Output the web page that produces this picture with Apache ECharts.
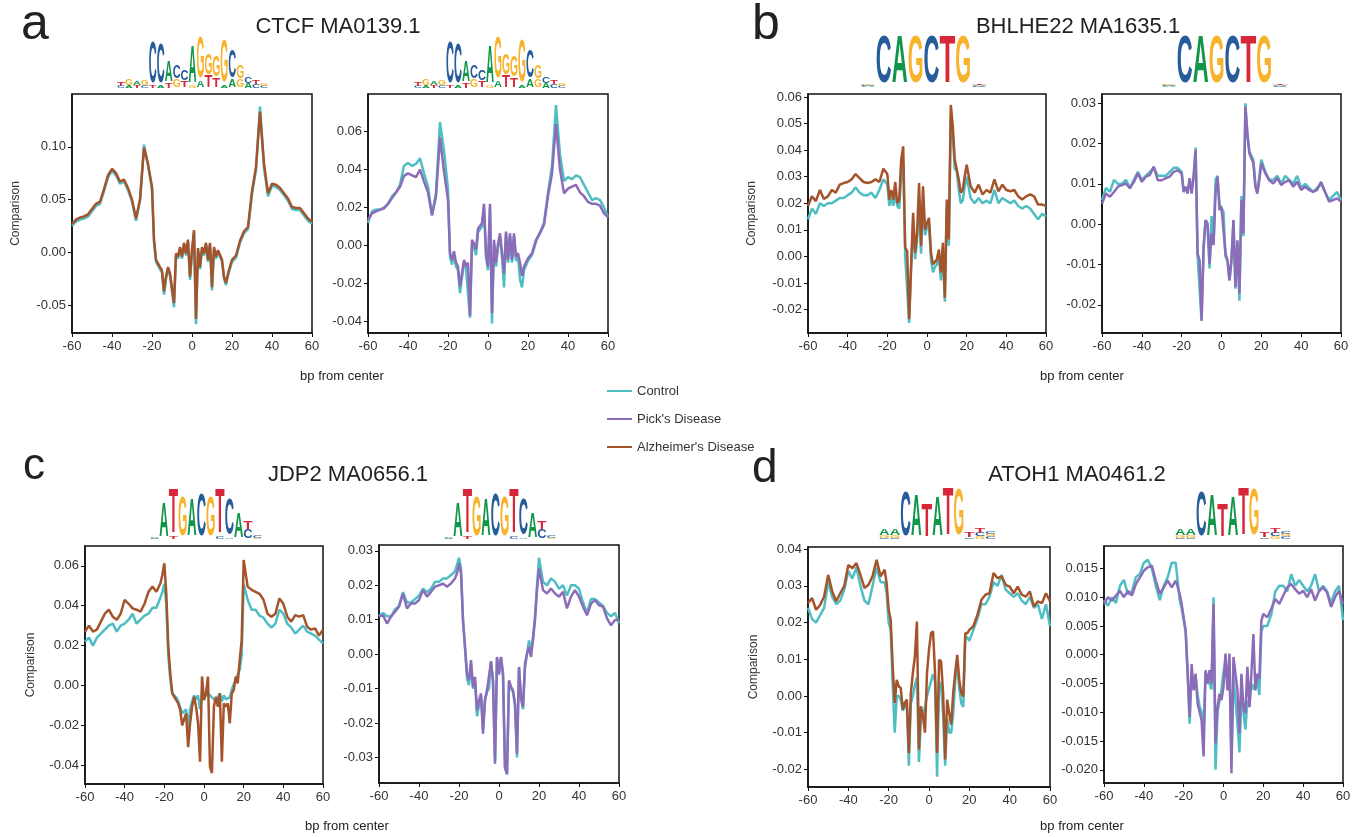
<!DOCTYPE html>
<html>
<head>
<meta charset="utf-8">
<script src="https://cdn.jsdelivr.net/npm/echarts@6.0.0/dist/echarts.min.js"></script>
<style>
  html, body { margin: 0; padding: 0; background: #fff; }
  #chart { width: 1366px; height: 837px; }
</style>
</head>
<body>
<div id="chart"></div>
<script>
// bp from motif center (2 bp steps on the flanks, 1 bp steps in the core)
const X = [-60,-58,-56,-54,-52,-50,-48,-46,-44,-42,-40,-38,-36,-34,-32,-30,-28,-26,-24,-22,
  -21,-20,-19,-18,-17,-16,-15,-14,-13,-12,-11,-10,-9,-8,-7,-6,-5,-4,-3,-2,-1,0,1,2,3,4,5,6,7,8,9,10,11,12,13,14,15,16,17,18,19,20,
  22,24,26,28,30,32,34,36,38,40,42,44,46,48,50,52,54,56,58,60];

// a - CTCF MA0139.1
const ctcfCtrlL = [0.025,0.029,0.031,0.032,0.034,0.039,0.044,0.046,0.058,0.071,0.077,0.073,0.065,0.067,0.059,0.048,0.030,0.049,0.102,0.082,
  0.082,0.060,0.010,-0.009,-0.008,-0.016,-0.019,-0.040,-0.025,-0.016,-0.022,-0.022,-0.052,-0.003,-0.006,0.003,-0.006,0.007,-0.003,0.010,-0.026,0.000,0.019,-0.068,0.002,-0.016,0.003,-0.003,0.007,-0.009,0.007,-0.036,0.003,-0.006,0.000,0.000,-0.009,-0.025,-0.031,-0.022,-0.022,-0.009,
  -0.005,0.009,0.018,0.022,0.055,0.078,0.138,0.080,0.053,0.063,0.062,0.059,0.054,0.049,0.041,0.040,0.040,0.035,0.030,0.027];
const ctcfAD = [0.027,0.031,0.033,0.034,0.036,0.041,0.046,0.048,0.060,0.073,0.079,0.075,0.067,0.069,0.061,0.050,0.032,0.050,0.099,0.084,
  0.084,0.062,0.012,-0.007,-0.006,-0.014,-0.017,-0.037,-0.023,-0.014,-0.020,-0.020,-0.048,-0.001,-0.004,0.005,-0.004,0.009,-0.001,0.012,-0.023,0.002,0.021,-0.063,0.004,-0.014,0.005,-0.001,0.009,-0.007,0.009,-0.033,0.005,-0.004,0.002,0.002,-0.007,-0.023,-0.029,-0.020,-0.020,-0.007,
  -0.003,0.011,0.020,0.024,0.058,0.081,0.133,0.084,0.056,0.065,0.064,0.061,0.056,0.051,0.043,0.042,0.042,0.037,0.032,0.029];
const ctcfCtrlR = [0.012,0.018,0.019,0.019,0.020,0.022,0.026,0.028,0.032,0.042,0.0435,0.042,0.043,0.046,0.038,0.031,0.016,0.028,0.065,0.050,
  0.051,0.030,-0.006,-0.010,-0.005,-0.011,-0.013,-0.025,-0.017,-0.009,-0.012,-0.011,-0.038,0.001,-0.001,-0.005,0.007,0.008,0.010,0.020,-0.006,-0.013,0.020,-0.041,0.001,-0.011,-0.001,0.005,-0.006,-0.022,0.006,-0.009,0.005,-0.009,0.005,-0.008,-0.006,-0.018,-0.022,-0.013,-0.012,-0.008,
  -0.005,0.002,0.007,0.012,0.028,0.042,0.074,0.048,0.034,0.036,0.035,0.037,0.036,0.032,0.028,0.024,0.025,0.024,0.020,0.015];
const ctcfPick = [0.0135,0.017,0.018,0.0188,0.0196,0.022,0.025,0.028,0.031,0.0367,0.038,0.037,0.036,0.040,0.0337,0.028,0.016,0.026,0.057,0.039,
  0.038,0.024,-0.004,-0.0075,-0.003,-0.009,-0.011,-0.0216,-0.0146,-0.0075,-0.011,-0.009,-0.037,0.003,0.001,-0.002,0.009,0.010,0.0118,0.022,-0.004,-0.011,0.022,-0.0356,0.003,-0.009,0.001,0.0065,-0.004,-0.0146,0.0074,-0.0075,0.0065,-0.0075,0.0065,-0.006,-0.004,-0.009,-0.016,-0.011,-0.011,-0.0067,
  -0.004,0.003,0.0065,0.011,0.026,0.038,0.064,0.040,0.0275,0.030,0.031,0.032,0.028,0.026,0.023,0.022,0.022,0.021,0.017,0.015];

// b - BHLHE22 MA1635.1
const bhlCtrlL = [0.014,0.018,0.016,0.020,0.019,0.020,0.020,0.021,0.022,0.022,0.023,0.024,0.026,0.024,0.023,0.023,0.024,0.022,0.025,0.029,
  0.029,0.027,0.019,0.022,0.019,0.024,0.019,0.018,0.030,0.036,0.000,0.000,-0.025,-0.004,0.013,-0.001,0.006,0.022,0.001,0.022,0.008,0.011,0.012,-0.001,-0.006,-0.004,-0.003,0.000,-0.009,0.002,-0.017,0.019,0.004,0.052,0.045,0.033,0.032,0.025,0.020,0.021,0.026,0.030,
  0.022,0.020,0.022,0.020,0.021,0.020,0.025,0.020,0.022,0.021,0.020,0.021,0.019,0.018,0.019,0.018,0.016,0.014,0.016,0.015];
const bhlAD = [0.019,0.0226,0.0208,0.025,0.0216,0.0226,0.025,0.024,0.027,0.0276,0.028,0.029,0.031,0.0295,0.028,0.0276,0.028,0.029,0.028,0.033,
  0.0326,0.031,0.0214,0.025,0.0214,0.028,0.020,0.0214,0.0364,0.0414,0.0033,0.002,-0.0236,-0.0036,0.0164,0.0014,0.0089,0.0276,0.0039,0.0264,0.0101,0.0126,0.0145,0.0014,-0.003,-0.0024,-0.0011,0.0026,-0.0061,0.0051,-0.0155,0.0214,0.0064,0.057,0.049,0.0364,0.0358,0.029,0.024,0.025,0.030,0.0345,
  0.0264,0.024,0.027,0.0233,0.025,0.024,0.029,0.0245,0.027,0.025,0.0245,0.025,0.0226,0.0214,0.0226,0.0233,0.0226,0.0195,0.0195,0.019];
const bhlCtrlR = [0.006,0.009,0.008,0.011,0.010,0.010,0.011,0.009,0.011,0.013,0.011,0.012,0.013,0.014,0.012,0.012,0.012,0.013,0.014,0.014,
  0.014,0.013,0.008,0.009,0.008,0.011,0.008,0.012,0.019,-0.008,-0.008,-0.024,-0.006,0.001,0.000,-0.011,0.002,-0.005,0.011,0.012,0.005,0.004,0.003,-0.008,-0.009,-0.014,-0.009,0.001,-0.016,-0.005,-0.019,0.007,-0.003,0.030,0.022,0.018,0.018,0.016,0.010,0.008,0.012,0.016,
  0.013,0.011,0.011,0.012,0.010,0.012,0.011,0.010,0.012,0.009,0.010,0.009,0.008,0.009,0.010,0.008,0.006,0.007,0.008,0.006];
const bhlPick = [0.0051,0.0076,0.0068,0.008,0.0093,0.0097,0.0101,0.0089,0.0105,0.0126,0.0105,0.0118,0.0122,0.0143,0.0109,0.0109,0.0114,0.0118,0.013,0.0134,
  0.0138,0.0126,0.008,0.0093,0.0076,0.0114,0.0076,0.0118,0.0184,-0.0073,-0.009,-0.0239,-0.0056,0.001,0.0002,-0.0098,-0.0023,-0.0052,0.0076,0.0118,0.0035,0.0043,0.0043,-0.0073,-0.009,-0.0139,-0.009,0.001,-0.0156,-0.004,-0.0172,0.006,-0.0023,0.0292,0.0225,0.0176,0.018,0.0151,0.0093,0.0076,0.011,0.0151,
  0.0126,0.0109,0.0101,0.0114,0.0097,0.0105,0.0109,0.0093,0.0105,0.0085,0.0093,0.0085,0.008,0.0085,0.0105,0.008,0.0056,0.006,0.0064,0.0056];

// c - JDP2 MA0656.1
const jdpCtrlL = [0.022,0.024,0.020,0.024,0.026,0.028,0.030,0.031,0.027,0.030,0.031,0.033,0.036,0.031,0.033,0.035,0.036,0.039,0.039,0.044,
  0.047,0.051,0.040,0.015,0.003,-0.004,-0.003,-0.006,-0.008,-0.011,-0.014,-0.013,-0.012,-0.021,-0.012,-0.008,-0.005,-0.007,-0.005,-0.012,-0.004,-0.006,-0.005,-0.004,-0.004,-0.006,-0.005,-0.008,-0.006,-0.004,-0.008,-0.005,-0.007,-0.008,-0.006,-0.002,-0.001,0.003,0.002,0.008,0.015,0.051,
  0.043,0.038,0.038,0.035,0.034,0.031,0.029,0.031,0.038,0.036,0.031,0.029,0.026,0.028,0.030,0.027,0.026,0.025,0.023,0.021];
const jdpAD = [0.027,0.030,0.027,0.028,0.032,0.036,0.038,0.0345,0.033,0.036,0.043,0.041,0.0387,0.038,0.037,0.041,0.047,0.0496,0.047,0.0512,
  0.0554,0.0613,0.046,0.0194,0.006,-0.004,-0.0057,-0.0074,-0.009,-0.0124,-0.020,-0.019,-0.014,-0.031,-0.019,-0.0107,-0.0057,-0.0107,-0.019,-0.0383,0.0044,-0.0074,-0.004,0.0044,-0.0408,-0.044,-0.0107,-0.0057,-0.0107,-0.004,-0.0383,-0.009,-0.0107,-0.009,-0.019,-0.004,-0.0023,0.0044,0.001,0.0127,0.0228,0.063,
  0.0496,0.048,0.047,0.046,0.043,0.036,0.0345,0.036,0.0437,0.041,0.0345,0.032,0.0353,0.0345,0.0353,0.0295,0.028,0.0286,0.025,0.028];
const jdpCtrlR = [0.011,0.012,0.011,0.011,0.013,0.014,0.018,0.015,0.015,0.016,0.017,0.019,0.018,0.019,0.021,0.021,0.022,0.022,0.023,0.024,
  0.026,0.028,0.025,0.010,0.002,-0.007,-0.009,-0.003,-0.010,-0.008,-0.018,-0.015,-0.012,-0.022,-0.013,-0.011,-0.010,-0.002,-0.008,-0.031,-0.001,-0.006,-0.001,-0.006,-0.033,-0.035,-0.008,-0.010,-0.011,-0.015,-0.030,-0.004,-0.013,-0.016,-0.004,0.000,0.004,0.001,0.005,0.011,0.020,0.028,
  0.021,0.020,0.022,0.021,0.019,0.020,0.017,0.020,0.020,0.019,0.015,0.012,0.016,0.016,0.015,0.014,0.012,0.011,0.012,0.009];
const jdpPick = [0.0109,0.0113,0.0089,0.0109,0.0123,0.0138,0.0176,0.0133,0.0147,0.0147,0.0157,0.0186,0.0167,0.0181,0.0196,0.020,0.0205,0.0196,0.0205,0.022,
  0.0235,0.0264,0.0235,0.0099,0.0021,-0.0056,-0.0076,-0.0017,-0.0095,-0.0066,-0.0163,-0.0134,-0.0114,-0.0231,-0.0134,-0.0105,-0.0105,-0.0022,-0.0076,-0.0318,-0.0008,-0.0056,-0.0008,-0.0056,-0.0328,-0.0347,-0.0076,-0.0095,-0.0105,-0.0143,-0.0289,-0.0037,-0.0124,-0.0153,-0.0027,0.0002,0.0021,-0.0008,0.0041,0.0099,0.0186,0.0249,
  0.0186,0.0176,0.0191,0.0176,0.0167,0.0181,0.0133,0.0167,0.0186,0.0167,0.0138,0.0113,0.0147,0.0157,0.0142,0.0138,0.0104,0.0084,0.0099,0.0099];

// d - ATOH1 MA0461.2
const atoCtrlL = [0.024,0.021,0.020,0.022,0.024,0.031,0.027,0.025,0.026,0.029,0.034,0.032,0.035,0.030,0.026,0.025,0.030,0.035,0.031,0.031,
  0.028,0.020,0.018,0.003,-0.010,0.000,0.000,-0.001,-0.004,-0.003,-0.002,-0.019,-0.002,0.000,0.003,0.005,-0.018,-0.006,-0.006,-0.003,0.000,0.002,0.004,0.006,0.004,-0.022,0.004,0.003,-0.005,-0.019,-0.006,-0.010,-0.010,-0.005,0.004,0.009,0.002,-0.002,-0.003,0.016,0.016,0.015,
  0.018,0.021,0.025,0.025,0.027,0.031,0.030,0.033,0.029,0.028,0.027,0.028,0.026,0.025,0.027,0.024,0.025,0.021,0.025,0.019];
const atoAD = [0.0253,0.0267,0.0235,0.0248,0.0271,0.033,0.0285,0.0258,0.028,0.030,0.0357,0.0348,0.0362,0.033,0.0294,0.0303,0.0326,0.0371,0.0326,0.0344,
  0.0307,0.0235,0.0208,0.0081,-0.0019,0.0044,0.0026,0.0022,-0.0037,-0.0019,-0.001,-0.0155,0.0008,0.0063,0.0108,0.0203,-0.0146,-0.0028,-0.0055,-0.010,0.0063,0.0126,0.0171,0.0176,0.0063,-0.0155,0.0099,0.0094,0.0008,-0.0173,-0.001,-0.0046,-0.0078,0.0008,0.0063,0.0112,0.0044,0.0008,-0.0001,0.0171,0.0171,0.018,
  0.019,0.0221,0.0262,0.0276,0.028,0.0335,0.0321,0.0326,0.0303,0.0298,0.028,0.0298,0.0276,0.0271,0.0285,0.0244,0.0258,0.0253,0.028,0.0258];
const atoCtrlR = [0.0095,0.0085,0.010,0.009,0.012,0.013,0.0105,0.011,0.0135,0.014,0.016,0.0165,0.015,0.012,0.0095,0.012,0.0135,0.016,0.016,0.0095,
  0.008,0.008,0.004,-0.003,-0.012,-0.003,-0.006,-0.004,-0.007,-0.009,-0.010,-0.012,-0.003,-0.004,-0.004,-0.006,0.010,-0.020,-0.010,-0.008,-0.006,-0.003,-0.001,-0.005,-0.003,-0.018,-0.004,-0.008,-0.012,-0.017,-0.007,-0.010,-0.013,-0.008,-0.009,-0.005,-0.006,-0.006,-0.004,-0.007,0.004,0.005,
  0.005,0.007,0.011,0.012,0.012,0.011,0.014,0.012,0.013,0.012,0.011,0.012,0.014,0.011,0.012,0.011,0.009,0.011,0.012,0.006];
const atoPick = [0.0088,0.010,0.0094,0.0103,0.0111,0.010,0.0111,0.0103,0.0123,0.0134,0.0146,0.0152,0.0155,0.0129,0.0106,0.0117,0.0129,0.0117,0.0129,0.0106,
  0.0088,0.0088,0.0042,-0.0033,-0.0108,-0.0016,-0.0062,-0.0033,-0.0085,-0.0085,-0.0114,-0.0177,-0.0027,-0.005,-0.0027,-0.005,0.0088,-0.0154,-0.0091,-0.0068,-0.0079,-0.0056,0.0002,-0.0062,0.0002,-0.0206,-0.0004,-0.0033,-0.0062,-0.0137,-0.0033,-0.0091,-0.0102,-0.0021,-0.0091,-0.0033,0.0036,-0.0062,-0.0033,-0.0042,0.0059,0.0071,
  0.0065,0.008,0.0097,0.0088,0.0103,0.0117,0.0123,0.0114,0.0106,0.0111,0.010,0.0114,0.0094,0.0111,0.0117,0.0108,0.0083,0.010,0.0111,0.0088];

// y tick labels per panel
const ticksA1 = [-0.05, 0, 0.05, 0.10];
const ticksA2 = [-0.04, -0.02, 0, 0.02, 0.04, 0.06];
const ticksB1 = [-0.02, -0.01, 0, 0.01, 0.02, 0.03, 0.04, 0.05, 0.06];
const ticksB2 = [-0.02, -0.01, 0, 0.01, 0.02, 0.03];
const ticksC1 = [-0.04, -0.02, 0, 0.02, 0.04, 0.06];
const ticksC2 = [-0.03, -0.02, -0.01, 0, 0.01, 0.02, 0.03];
const ticksD1 = [-0.02, -0.01, 0, 0.01, 0.02, 0.03, 0.04];
const ticksD2 = [-0.020, -0.015, -0.010, -0.005, 0, 0.005, 0.010, 0.015];

const CTRL = 'Control', PICK = "Pick's Disease", AD = "Alzheimer's Disease";
const COLORS = { [CTRL]: '#4fbec3', [PICK]: '#8c6cb9', [AD]: '#a4532b' };

// sequence logos (information content in bits, letters bottom to top)
const logoCTCF = [
  [['C',.08],['T',.15]], [['A',.1],['G',.25]], [['T',.1],['A',.15]], [['C',.1],['G',.2]],
  [['T',.1],['C',1.75]], [['A',.1],['C',1.7]], [['T',.2],['A',.9]], [['G',.35],['C',.55]],
  [['T',.3],['C',.45]], [['G',.1],['A',1.55]], [['A',.3],['G',1.75]], [['T',.5],['G',.9]],
  [['T',.4],['G',.9]], [['A',.1],['G',1.8]], [['A',.35],['C',1.2]], [['G',.35],['G',.55]],
  [['A',.2],['C',.3]], [['C',.15],['T',.15]], [['C',.08],['G',.12]]
];
const logoBHL = [
  [['A',.03],['C',.04],['G',.04]], [['C',2.0]], [['A',2.0]], [['G',2.0]], [['C',2.0]], [['T',2.0]], [['G',2.0]],
  [['C',.03],['A',.04],['T',.05]]
];
const logoJDP = [
  [['C',.04],['A',.06]], [['A',1.45]], [['T',.1],['T',1.9]], [['G',1.7]], [['A',1.55]], [['C',1.8]], [['G',1.7]],
  [['C',.1],['T',1.9]], [['A',.05],['C',1.5]], [['A',1.05]], [['C',.4],['T',.35]], [['G',.05],['C',.08]]
];
const logoATO = [
  [['C',.05],['G',.1],['A',.3]], [['C',.05],['G',.1],['A',.3]], [['C',1.9]], [['A',1.75]], [['T',1.4]], [['A',1.7]],
  [['T',2.0]], [['G',1.95]], [['C',.05],['T',.2]], [['G',.1],['C',.15],['T',.2]], [['C',.1],['G',.1],['C',.1]]
];

// layout: plot boxes in px, y range and which curves go where
const panels = [
  { box: [72, 94, 240, 239], y: [-0.0764, 0.150], ticks: ticksA1, dec: 2, ctrl: ctcfCtrlL, dis: ctcfAD, name: AD, yName: 50 },
  { box: [368, 94, 240, 239], y: [-0.046, 0.0798], ticks: ticksA2, dec: 2, ctrl: ctcfCtrlR, dis: ctcfPick, name: PICK },
  { box: [808, 94, 238, 239], y: [-0.0288, 0.0611], ticks: ticksB1, dec: 2, ctrl: bhlCtrlL, dis: bhlAD, name: AD, yName: 50 },
  { box: [1102, 94, 239, 239], y: [-0.027, 0.0323], ticks: ticksB2, dec: 2, ctrl: bhlCtrlR, dis: bhlPick, name: PICK },
  { box: [85, 546, 238, 238], y: [-0.0495, 0.070], ticks: ticksC1, dec: 2, ctrl: jdpCtrlL, dis: jdpAD, name: AD, yName: 48 },
  { box: [379, 545, 240, 238], y: [-0.0374, 0.0317], ticks: ticksC2, dec: 2, ctrl: jdpCtrlR, dis: jdpPick, name: PICK },
  { box: [808, 547, 242, 240], y: [-0.0248, 0.0406], ticks: ticksD1, dec: 2, ctrl: atoCtrlL, dis: atoAD, name: AD, yName: 48 },
  { box: [1104, 546, 239, 237], y: [-0.0223, 0.0189], ticks: ticksD2, dec: 3, ctrl: atoCtrlR, dis: atoPick, name: PICK }
];

const logos = [
  { spec: logoCTCF, x: 117, w: 151, bottom: 88 },
  { spec: logoCTCF, x: 414, w: 152, bottom: 88 },
  { spec: logoBHL, x: 860, w: 127, bottom: 87 },
  { spec: logoBHL, x: 1161, w: 127, bottom: 87 },
  { spec: logoJDP, x: 150, w: 112, bottom: 539 },
  { spec: logoJDP, x: 444, w: 112, bottom: 539 },
  { spec: logoATO, x: 879, w: 117, bottom: 539 },
  { spec: logoATO, x: 1175, w: 116, bottom: 539 }
];

const FONT = '"Liberation Sans", Arial, Helvetica, sans-serif';
const LETTER_COL = { A: '#109648', C: '#255c99', G: '#f7b32b', T: '#d62839' };
const LETTER_W = { A: 0.722, C: 0.722, G: 0.778, T: 0.611 };
const PX_PER_BIT = 24, FS = 40;

function logoGraphics() {
  const out = [];
  logos.forEach(lg => {
    const cw = lg.w / lg.spec.length;
    lg.spec.forEach((col, i) => {
      let base = lg.bottom;
      const cx = lg.x + cw * (i + 0.5);
      col.forEach(([L, bits]) => {
        const h = bits * PX_PER_BIT;
        const sy = h / (0.729 * FS);
        const sx = cw / (LETTER_W[L] * FS);
        out.push({
          type: 'text', silent: true,
          x: cx, y: base - h / 2 + 0.018 * FS * sy,
          scaleX: sx, scaleY: sy,
          style: { text: L, font: 'bold ' + FS + 'px ' + FONT, fill: LETTER_COL[L], align: 'center', verticalAlign: 'middle' }
        });
        base -= h;
      });
    });
  });
  return out;
}

const grid = [], xAxis = [], yAxis = [], series = [];
panels.forEach((p, i) => {
  grid.push({ left: p.box[0], top: p.box[1], width: p.box[2], height: p.box[3], show: true, borderColor: '#111', borderWidth: 1.5 });
  xAxis.push({
    gridIndex: i, type: 'value', min: -60, max: 60, interval: 20,
    axisLine: { onZero: false, lineStyle: { color: '#111', width: 1.5 } },
    axisTick: { length: 4, lineStyle: { color: '#111' } },
    axisLabel: { fontSize: 13, color: '#333', fontFamily: FONT, margin: 7 },
    splitLine: { show: false }
  });
  yAxis.push({
    gridIndex: i, type: 'value', min: p.y[0], max: p.y[1],
    axisLine: { show: true, onZero: false, lineStyle: { color: '#111', width: 1.5 } },
    axisTick: { show: true, length: 4, customValues: p.ticks, lineStyle: { color: '#111' } },
    axisLabel: { fontSize: 13, color: '#333', fontFamily: FONT, margin: 6, customValues: p.ticks,
      formatter: v => v.toFixed(p.dec) },
    splitLine: { show: false },
    name: p.yName ? 'Comparison' : '', nameLocation: 'middle', nameRotate: 90, nameGap: p.yName || 0,
    nameTextStyle: { fontSize: 12, color: '#333', fontFamily: FONT }
  });
  [[CTRL, p.ctrl, 2], [p.name, p.dis, 3]].forEach(([nm, arr, z]) => {
    series.push({
      name: nm, type: 'line', xAxisIndex: i, yAxisIndex: i, z: z,
      symbol: 'none', smooth: false,
      lineStyle: { width: 2.5, color: COLORS[nm] }, itemStyle: { color: COLORS[nm] },
      data: X.map((x, k) => [x, arr[k]])
    });
  });
});

const txt = (text, left, top, size, align) => ({
  text, left, top, padding: 0, textAlign: align || 'left',
  textStyle: { fontSize: size, fontWeight: 'normal', color: '#222', fontFamily: FONT }
});

const option = {
  animation: false,
  backgroundColor: '#fff',
  title: [
    txt('a', 21, 0, 50), txt('b', 752, 0, 50), txt('c', 23, 445, 44), txt('d', 752, 446, 46),
    txt('CTCF MA0139.1', 338, 16, 22, 'center'),
    txt('BHLHE22 MA1635.1', 1078, 16, 22, 'center'),
    txt('JDP2 MA0656.1', 348, 464, 22, 'center'),
    txt('ATOH1 MA0461.2', 1077, 464, 22, 'center'),
    txt('bp from center', 342, 370, 13, 'center'),
    txt('bp from center', 1082, 370, 13, 'center'),
    txt('bp from center', 347, 820, 13, 'center'),
    txt('bp from center', 1082, 820, 13, 'center')
  ],
  legend: {
    data: [CTRL, PICK, AD], orient: 'vertical', left: 607, top: 384, padding: 0,
    icon: 'rect', itemWidth: 25, itemHeight: 2, itemGap: 14,
    textStyle: { fontSize: 13, color: '#333', fontFamily: FONT, lineHeight: 14 }
  },
  grid, xAxis, yAxis, series,
  graphic: logoGraphics()
};

const chart = echarts.init(document.getElementById('chart'), null, { renderer: 'canvas' });
chart.setOption(option);
</script>
</body>
</html>
